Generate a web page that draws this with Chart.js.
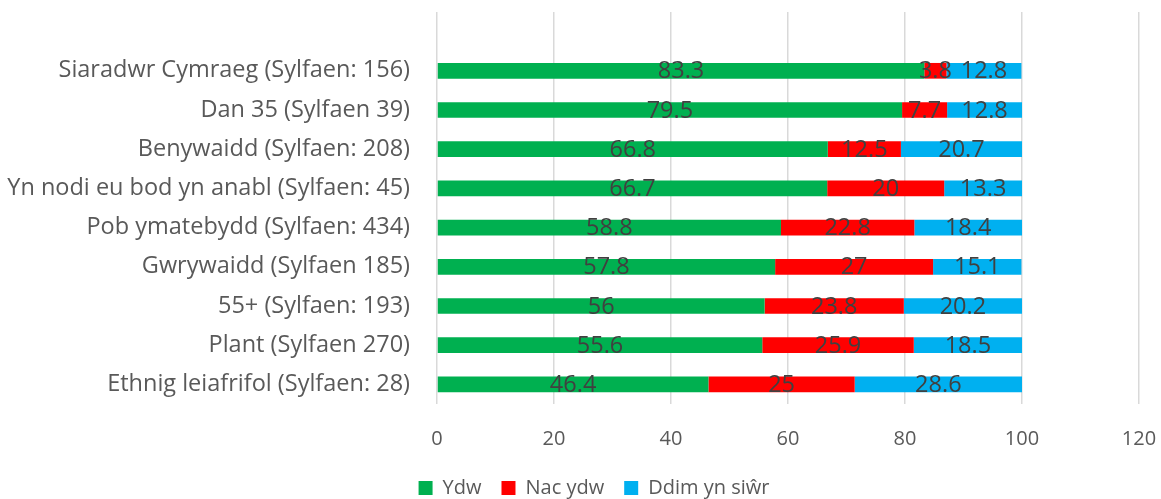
<!DOCTYPE html>
<html>
<head>
<meta charset="utf-8">
<script src="https://cdn.jsdelivr.net/npm/chart.js@4/dist/chart.umd.min.js"></script>
<style>
html,body{margin:0;padding:0;background:#fff;}
#wrap{width:1161px;height:499px;}
</style>
</head>
<body>
<div id="wrap"><canvas id="c" width="1161" height="499"></canvas></div>
<script>
const categories = [
  'Siaradwr Cymraeg (Sylfaen: 156)',
  'Dan 35 (Sylfaen 39)',
  'Benywaidd (Sylfaen: 208)',
  'Yn nodi eu bod yn anabl (Sylfaen: 45)',
  'Pob ymatebydd (Sylfaen: 434)',
  'Gwrywaidd (Sylfaen 185)',
  '55+ (Sylfaen: 193)',
  'Plant (Sylfaen 270)',
  'Ethnig leiafrifol (Sylfaen: 28)'
];
const ydw       = [83.3, 79.5, 66.8, 66.7, 58.8, 57.8, 56, 55.6, 46.4];
const nacYdw    = [3.8, 7.7, 12.5, 20, 22.8, 27, 23.8, 25.9, 25];
const ddimYnSiwr= [12.8, 12.8, 20.7, 13.3, 18.4, 15.1, 20.2, 18.5, 28.6];
const seriesNames = ['Ydw', 'Nac ydw', 'Ddim yn siŵr'];
const xTicks = [0, 20, 40, 60, 80, 100, 120];

const FONT = '"Open Sans", Lato, sans-serif';

const labelPlugin = {
  id: 'barLabels',
  afterDatasetsDraw(chart) {
    const ctx = chart.ctx;
    ctx.save();
    ctx.font = '23.5px ' + FONT;
    ctx.fillStyle = '#404040';
    ctx.textAlign = 'center';
    ctx.textBaseline = 'middle';
    chart.data.datasets.forEach((ds, di) => {
      const meta = chart.getDatasetMeta(di);
      meta.data.forEach((bar, i) => {
        const v = ds.data[i];
        if (v === null || v === undefined) return;
        const cx = (bar.x + bar.base) / 2;
        ctx.fillText(String(v), cx, bar.y + 1);
      });
    });
    ctx.restore();
  }
};

new Chart(document.getElementById('c'), {
  type: 'bar',
  data: {
    labels: [''].concat(categories),
    datasets: [
      { label: seriesNames[0], data: [null].concat(ydw), backgroundColor: '#00B050' },
      { label: seriesNames[1], data: [null].concat(nacYdw), backgroundColor: '#FF0000' },
      { label: seriesNames[2], data: [null].concat(ddimYnSiwr), backgroundColor: '#00B0F0' }
    ]
  },
  options: {
    indexAxis: 'y',
    responsive: false,
    animation: false,
    devicePixelRatio: 1,
    layout: { padding: { top: 12, right: -27, left: 0, bottom: -9 } },
    datasets: { bar: { barPercentage: 0.4, categoryPercentage: 1.0 } },
    scales: {
      x: {
        stacked: true,
        min: 0, max: 120,
        afterBuildTicks(scale) { scale.ticks = xTicks.map(v => ({ value: v })); },
        ticks: { font: { family: FONT, size: 20 }, color: '#595959', padding: 23 },
        grid: { color: '#D9D9D9', lineWidth: 1.5, drawTicks: false },
        border: { display: false },
        afterFit(scale) { scale.height = 54; scale.paddingRight = 22; scale.paddingLeft = 0; }
      },
      y: {
        stacked: true,
        ticks: { font: { family: FONT, size: 23.5 }, color: '#595959', padding: 27, autoSkip: false },
        grid: { display: false, drawTicks: false },
        border: { display: false },
        afterFit(scale) { scale.width = 437; scale.paddingTop = 0; scale.paddingBottom = 0; }
      }
    },
    plugins: {
      legend: {
        position: 'bottom',
        labels: { font: { family: FONT, size: 20 }, color: '#595959', boxWidth: 14, boxHeight: 14, padding: 20 }
      },
      tooltip: { enabled: false }
    }
  },
  plugins: [labelPlugin]
});
</script>
</body>
</html>
